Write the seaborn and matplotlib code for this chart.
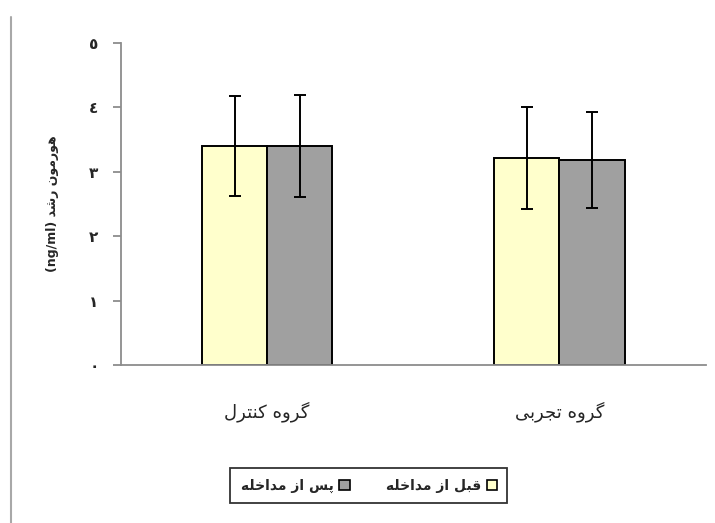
"""Growth hormone before/after intervention, control vs experimental group."""

import matplotlib
matplotlib.use("Agg")
import pandas as pd
import matplotlib.pyplot as plt
from matplotlib.lines import Line2D
from matplotlib.patches import Patch
import seaborn as sns

# Persian labels, written as shaped presentation forms in visual (left-to-right) order
# because matplotlib does no Arabic shaping or bidi.
# "گروه کنترل", "گروه تجربی"
groups = [
    "\uFEDD\uFEAE\uFE98\uFEE8\uFB90 \uFEE9\uFEED\uFEAE\uFB94",
    "\uFBFD\uFE91\uFEAE\uFEA0\uFE97 \uFEE9\uFEED\uFEAE\uFB94",
]
# "قبل از مداخله", "پس از مداخله"
phase_pre = "\uFEEA\uFEE0\uFEA7\uFE8D\uFEAA\uFEE3 \uFEAF\uFE8D \uFEDE\uFE92\uFED7"
phase_post = "\uFEEA\uFEE0\uFEA7\uFE8D\uFEAA\uFEE3 \uFEAF\uFE8D \uFEB2\uFB58"
# "هورمون رشد (ng/ml)"
y_label = "(ng/ml) \uFEAA\uFEB7\uFEAD \uFEE5\uFEEE\uFEE3\uFEAD\uFEEE\uFEEB"
y_ticks = [0, 1, 2, 3, 4, 5]
y_tick_labels = ["\u0660", "\u0661", "\u0662", "\u0663", "\u0664", "\u0665"]

mean_pre = [3.40, 3.21]
mean_post = [3.40, 3.18]
sd_pre = [0.78, 0.79]
sd_post = [0.79, 0.75]

df = pd.DataFrame({
    "group": groups * 2,
    "phase": [phase_pre] * 2 + [phase_post] * 2,
    "value": mean_pre + mean_post,
})

sns.set_style("white")
plt.rcParams["font.family"] = ["DejaVu Sans"]

fig = plt.figure(figsize=(7.15, 5.23), dpi=100)
ax = fig.add_axes([0.169, 0.302, 0.818, 0.616])

colors = ["#FFFFCC", "#A0A0A0"]
sns.barplot(
    data=df, x="group", y="value", hue="phase",
    hue_order=[phase_pre, phase_post], palette=colors, saturation=1,
    width=0.445, gap=0, edgecolor="black", linewidth=1.4,
    errorbar=None, legend=False, ax=ax,
)

# Error bars (SD) on top of the seaborn bars
for container, sds in zip(ax.containers, [sd_pre, sd_post]):
    xs = [b.get_x() + b.get_width() / 2 for b in container]
    ys = [b.get_height() for b in container]
    ax.errorbar(xs, ys, yerr=sds, fmt="none", ecolor="black",
                elinewidth=1.4, capsize=4.5, capthick=1.4, zorder=5)

ax.set_xlim(-0.5, 1.5)
ax.set_ylim(0, 5)
ax.set_yticks(y_ticks)
ax.set_yticklabels(y_tick_labels, fontsize=11, fontweight="bold")
ax.set_xticks([0, 1])
ax.set_xticklabels(groups, fontsize=13)
ax.set_xticks([-0.5, 0.5, 1.5], minor=True)
ax.tick_params(axis="x", which="major", length=0, pad=26)
ax.tick_params(axis="x", which="minor", length=7, width=1.3, color="#8C8C8C",
               direction="out")
ax.tick_params(axis="y", length=6, width=1.3, color="#8C8C8C", direction="out",
               pad=10, left=True)
ax.set_xlabel("")
ax.set_ylabel(y_label, fontsize=9, fontweight="bold", labelpad=22)

for side in ["top", "right"]:
    ax.spines[side].set_visible(False)
for side in ["left", "bottom"]:
    ax.spines[side].set_color("#8C8C8C")
    ax.spines[side].set_linewidth(1.3)

handles = [
    Patch(facecolor=colors[1], edgecolor="black", linewidth=1.2),
    Patch(facecolor=colors[0], edgecolor="black", linewidth=1.2),
]
fig.legend(
    handles, [phase_post, phase_pre], ncol=2, markerfirst=False,
    loc="center", bbox_to_anchor=(0.516, 0.071), frameon=True, fancybox=False,
    edgecolor="black", prop={"size": 10, "weight": "bold"},
    handlelength=0.75, handleheight=0.75, handletextpad=0.4, columnspacing=2.6,
    borderpad=0.75, borderaxespad=0,
).get_frame().set_linewidth(1.3)

# thin grey frame line at the left edge of the image
fig.add_artist(Line2D([0.015, 0.015], [0, 0.967], transform=fig.transFigure,
                      color="#A8A8A8", linewidth=1.5))

fig.savefig("out.png", dpi=100, facecolor="white")
